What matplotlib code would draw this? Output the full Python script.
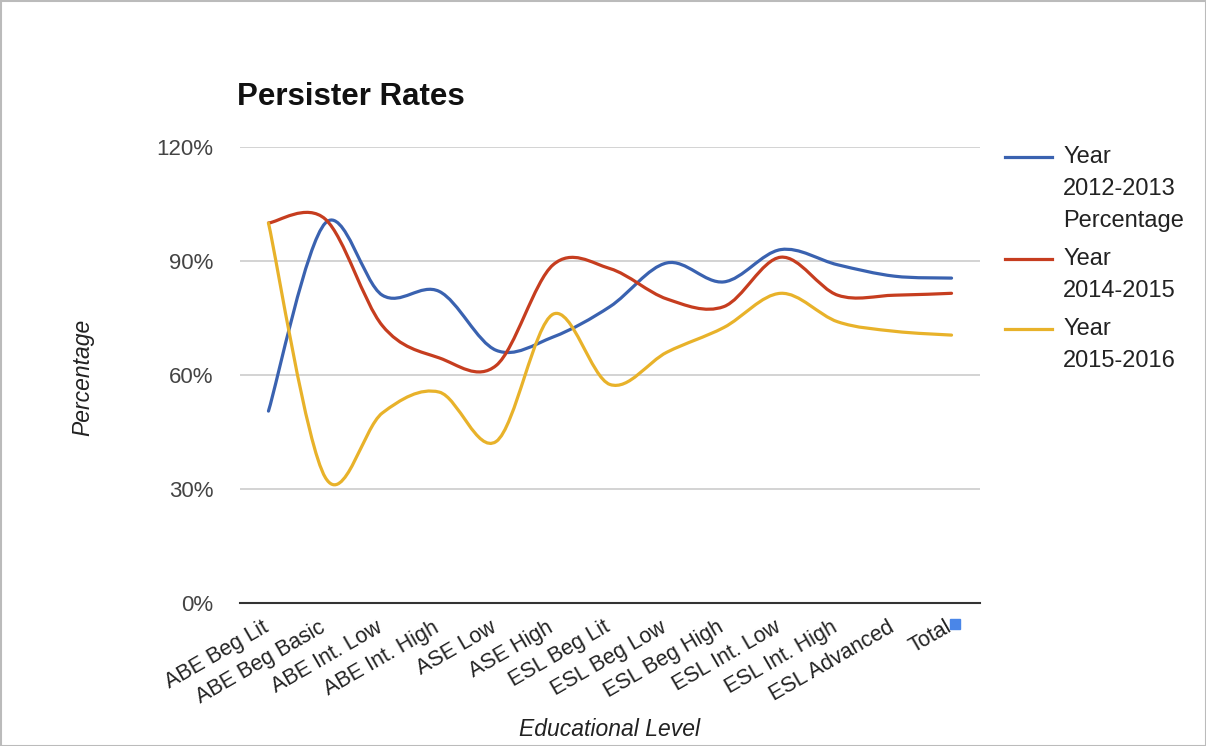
import numpy as np
import matplotlib
matplotlib.use("Agg")
import matplotlib.pyplot as plt
import matplotlib.transforms as mtransforms
from matplotlib.path import Path
from matplotlib.patches import PathPatch, Rectangle
from matplotlib.lines import Line2D

plt.rcParams['font.family'] = ['Liberation Sans', 'DejaVu Sans']

# data
levels = ['ABE Beg Lit', 'ABE Beg Basic', 'ABE Int. Low', 'ABE Int. High', 'ASE Low',
          'ASE High', 'ESL Beg Lit', 'ESL Beg Low', 'ESL Beg High', 'ESL Int. Low',
          'ESL Int. High', 'ESL Advanced', 'Total']
y2012 = [50.5, 100, 81, 82, 66.5, 70, 78, 89.5, 84.5, 93, 89, 86, 85.5]
y2014 = [100, 101, 73, 64.5, 62.5, 89, 88, 80, 78, 91, 81, 81, 81.5]
y2015 = [100, 33, 50, 55.5, 42.5, 76, 57.5, 66, 72.5, 81.5, 74, 71.5, 70.5]
labels = [['Year', '2012-2013', 'Percentage'], ['Year', '2014-2015'], ['Year', '2015-2016']]
colors = ['#3a62b0', '#c63d1f', '#e8b22a']
yticks = [0, 30, 60, 90, 120]

W, H = 1206, 746
fig = plt.figure(figsize=(W / 100, H / 100), dpi=100)
ax = fig.add_axes([240 / W, 1 - 603 / H, 740 / W, 456 / H])


def smooth_path(xs, ys):
    # cubic bezier through the points (catmull-rom style tangents)
    pts = np.column_stack([xs, ys]).astype(float)
    n = len(pts)
    verts = [pts[0]]
    codes = [Path.MOVETO]
    for i in range(n - 1):
        p0 = pts[i - 1] if i > 0 else pts[i]
        p1 = pts[i]
        p2 = pts[i + 1]
        p3 = pts[i + 2] if i + 2 < n else pts[i + 1]
        c1 = p1 + (p2 - p0) / 6.0
        c2 = p2 - (p3 - p1) / 6.0
        verts += [c1, c2, p2]
        codes += [Path.CURVE4] * 3
    return Path(verts, codes)


x = np.arange(len(levels))
for vals, c in zip([y2012, y2014, y2015], colors):
    ax.add_patch(PathPatch(smooth_path(x, vals), facecolor='none', edgecolor=c,
                           lw=2.3, capstyle='round', joinstyle='round', zorder=3))

ax.set_xlim(-0.5, len(levels) - 0.5)
ax.set_ylim(0, 120)
ax.set_yticks(yticks)
ax.set_yticklabels([f'{v}%' for v in yticks], fontsize=16, color='#444444')
ax.set_xticks(x)
ax.set_xticklabels(levels, rotation=30, ha='right', rotation_mode='anchor',
                   fontsize=15.5, color='#222222')
ax.tick_params(axis='both', length=0)
ax.tick_params(axis='y', pad=19)
ax.tick_params(axis='x', pad=10)
# nudge the slanted labels a little to the left, like the original
shift = mtransforms.ScaledTranslation(-5 / 72, 0, fig.dpi_scale_trans)
for lab in ax.get_xticklabels():
    lab.set_transform(lab.get_transform() + shift)
ax.grid(axis='y', color='#cccccc', lw=1.2)
ax.set_axisbelow(True)
for s in ['top', 'right', 'left']:
    ax.spines[s].set_visible(False)
ax.spines['bottom'].set_color('#333333')
ax.spines['bottom'].set_linewidth(1.5)
ax.spines['bottom'].set_zorder(4)

fig.text(237 / W, 1 - 105 / H, 'Persister Rates', fontsize=22.5, fontweight='bold',
         ha='left', va='baseline', color='#111111')
fig.text(83 / W, 1 - 377 / H, 'Percentage', fontsize=16.5, style='italic',
         rotation=90, ha='center', va='center', color='#222222')
fig.text(610 / W, 1 - 729 / H, 'Educational Level', fontsize=16.5, style='italic',
         ha='center', va='center', color='#222222')

# legend drawn by hand
starts = [157, 259, 329]
for lines, c, y0 in zip(labels, colors, starts):
    fig.add_artist(Line2D([1005 / W, 1052 / W], [1 - y0 / H, 1 - y0 / H], color=c, lw=2.3,
                          transform=fig.transFigure))
    for k, t in enumerate(lines):
        fig.text(1063 / W, 1 - (y0 + 32 * k) / H, t, fontsize=17, ha='left',
                 va='center', color='#222222')

# little selection handle and the screenshot frame
fig.add_artist(Rectangle((950 / W, 1 - 629 / H), 10 / W, 10 / H, color='#4a86e8',
                         transform=fig.transFigure))
fig.add_artist(Rectangle((0.5 / W, 0.5 / H), 1 - 1 / W, 1 - 1 / H, fill=False,
                         edgecolor='#bbbbbb', lw=1.5, transform=fig.transFigure))

fig.savefig('out.png', dpi=100)
